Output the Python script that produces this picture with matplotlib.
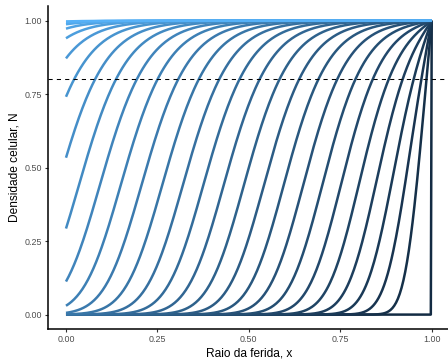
import numpy as np
import matplotlib
matplotlib.use("Agg")
import matplotlib.pyplot as plt
from matplotlib.colors import LinearSegmentedColormap

# modelo de Fisher-KPP: N_t = D N_xx + r N (1 - N)
D = 0.0009
r = 1.0
tempos = [0, 1, 2, 3, 4, 5, 6, 7, 8, 9, 10, 11, 12, 13,
          14, 15, 16, 17, 18, 19, 20, 21, 22, 23, 24, 25, 26, 27]
limiar = 0.8
xticks = [0.00, 0.25, 0.50, 0.75, 1.00]
yticks = [0.00, 0.25, 0.50, 0.75, 1.00]

# dominio estendido para a esquerda; so x >= 0 aparece no grafico
nx = 801
x = np.linspace(-1, 1, nx)
dx = x[1] - x[0]
passo = 0.4 * dx * dx / D

N = np.zeros(nx)
N[-1] = 1.0
t = 0.0
perfis = []
for tk in tempos:
    while t < tk - 1e-12:
        h = min(passo, tk - t)
        lap = np.empty(nx)
        lap[1:-1] = (N[2:] - 2 * N[1:-1] + N[:-2]) / dx**2
        lap[0] = 2 * (N[1] - N[0]) / dx**2
        lap[-1] = 0.0
        N = N + h * (D * lap + r * N * (1 - N))
        N[-1] = 1.0
        t += h
    perfis.append(N.copy())

vis = x >= -1e-9
cmap = LinearSegmentedColormap.from_list("gg", ["#132B43", "#56B1F7"])

plt.rcParams['font.family'] = ['Liberation Sans', 'DejaVu Sans']
fig = plt.figure(figsize=(4.48, 3.6), dpi=100)
ax = fig.add_axes([0.1065, 0.0853, 0.898, 0.898])

for tk, perfil in zip(tempos, perfis):
    ax.plot(x[vis], perfil[vis], color=cmap(tk / max(tempos)), lw=1.8,
            solid_capstyle='butt')

ax.axhline(limiar, color='black', lw=0.75, ls=(0, (4, 4)))

ax.set_xlim(-0.05, 1.05)
ax.set_ylim(-0.05, 1.05)
ax.set_xticks(xticks)
ax.set_yticks(yticks)
ax.set_xticklabels([f"{v:.2f}" for v in xticks])
ax.set_yticklabels([f"{v:.2f}" for v in yticks])
for s in ['top', 'right']:
    ax.spines[s].set_visible(False)
for s in ['left', 'bottom']:
    ax.spines[s].set_linewidth(1.1)
ax.tick_params(length=2.2, width=0.8, color='#333333', labelcolor='#4D4D4D',
               labelsize=6.4, pad=1.8)
ax.set_xlabel("Raio da ferida, x", fontsize=8.6, labelpad=2.5)
ax.set_ylabel("Densidade celular, N", fontsize=8.6, labelpad=3)

fig.savefig("out.png", dpi=100)
